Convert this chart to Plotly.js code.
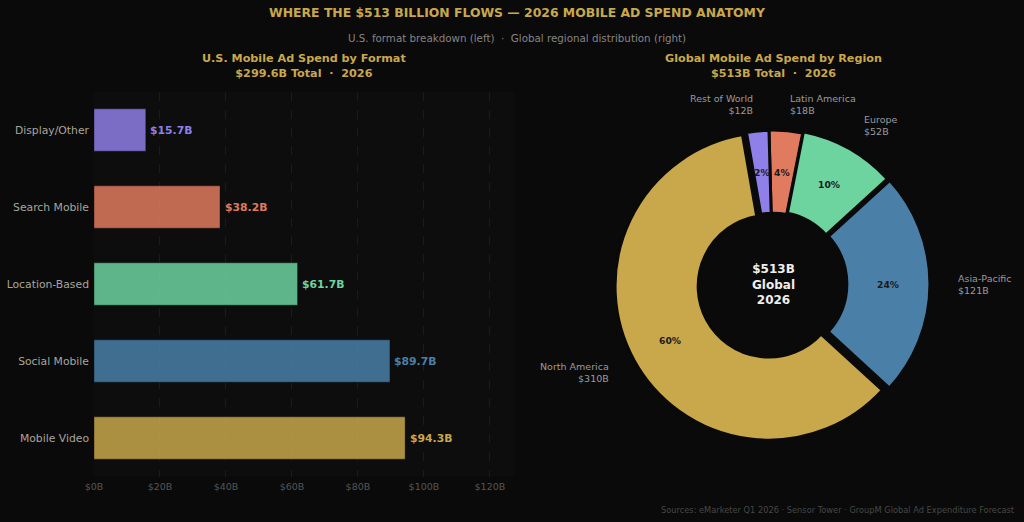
<!DOCTYPE html>
<html>
<head>
<meta charset="utf-8">
<script src="https://cdn.plot.ly/plotly-3.0.1.min.js"></script>
<style>
  html, body { margin: 0; padding: 0; background: #0a0a0a; }
  #chart { width: 1024px; height: 522px; }
</style>
</head>
<body>
<div id="chart"></div>
<script>
// ---- U.S. mobile ad spend by format (billions USD), top to bottom ----
const formats      = ['Display/Other', 'Search Mobile', 'Location-Based', 'Social Mobile', 'Mobile Video'];
const formatSpend  = [15.7, 38.2, 61.7, 89.7, 94.3];
const formatColors = ['#8f7fe8', '#e07b5f', '#6dd4a0', '#4a80a8', '#c9a84c'];

// ---- Global mobile ad spend by region (billions USD), clockwise from 12 o'clock ----
const regions      = ['Latin America', 'Europe', 'Asia-Pacific', 'North America', 'Rest of World'];
const regionSpend  = [18, 52, 121, 310, 12];
const regionColors = ['#e07b5f', '#6dd4a0', '#4a80a8', '#c9a84c', '#8f7fe8'];
const regionPull   = [0.0, 0.01, 0.02, 0.03, 0.0];

const xTicks = [0, 20, 40, 60, 80, 100, 120];

const W = 1024, H = 522;
const BG = '#0a0a0a';
const GOLD = '#c9a84c';
const FONT = 'DejaVu Sans, sans-serif';
const PIE_ROTATION = -1.5;   // degrees, clockwise-positive as in plotly

function rgba(hex, a) {
  const n = parseInt(hex.slice(1), 16);
  return `rgba(${(n >> 16) & 255},${(n >> 8) & 255},${n & 255},${a})`;
}
const px = x => x / W;          // pixel -> paper x
const py = y => 1 - y / H;      // pixel -> paper y

const annotations = [];

// Bar chart
const bars = {
  type: 'bar',
  orientation: 'h',
  x: formatSpend,
  y: formats,
  width: 0.55,
  marker: {
    color: formatColors.map(c => rgba(c, 0.85)),
    line: { color: 'rgba(0,0,0,0.35)', width: 1 }
  },
  hoverinfo: 'skip',
  xaxis: 'x', yaxis: 'y'
};

// Value labels at the end of each bar
formatSpend.forEach((v, i) => {
  annotations.push({
    xref: 'x', yref: 'y', x: v, y: formats[i],
    xanchor: 'left', yanchor: 'middle', xshift: 2.5,
    showarrow: false,
    text: '$' + v.toFixed(1) + 'B',
    font: { family: FONT, size: 10.8, color: formatColors[i], weight: 700 }
  });
});

// Donut chart geometry (pixels)
const pieBox = { x0: 614.5, x1: 931.5, y0: 125.5, y1: 442.5 };
const cx = (pieBox.x0 + pieBox.x1) / 2;
const cy = (pieBox.y0 + pieBox.y1) / 2;
const maxPull = Math.max(...regionPull);
const R = Math.min(pieBox.x1 - pieBox.x0, pieBox.y1 - pieBox.y0) / 2 / (1 + maxPull);

const donut = {
  type: 'pie',
  labels: regions,
  values: regionSpend,
  sort: false,
  direction: 'clockwise',
  rotation: PIE_ROTATION,
  hole: 0.46,
  pull: regionPull,
  marker: { colors: regionColors, line: { color: BG, width: 3 } },
  textinfo: 'none',
  hoverinfo: 'skip',
  showlegend: false,
  domain: { x: [px(pieBox.x0), px(pieBox.x1)], y: [py(pieBox.y1), py(pieBox.y0)] }
};

// Region labels and percentages placed from each slice's mid-angle
const total = regionSpend.reduce((a, b) => a + b, 0);
let cum = 0;
regionSpend.forEach((v, i) => {
  const mid = (90 - PIE_ROTATION - (cum + v / 2) / total * 360) * Math.PI / 180;
  cum += v;
  const c = Math.cos(mid), s = Math.sin(mid);
  const dOut = (1.17 + regionPull[i]) * R;
  const dIn = (0.73 + regionPull[i]) * R;
  const right = c >= 0;
  annotations.push({
    xref: 'paper', yref: 'paper',
    x: px(cx + dOut * c), y: py(cy - dOut * s),
    xanchor: right ? 'left' : 'right', yanchor: 'middle',
    align: right ? 'left' : 'right',
    text: regions[i] + '<br>$' + v + 'B',
    showarrow: false,
    font: { family: FONT, size: 9.5, color: '#9a9a9a', lineposition: 'none' }
  });
  annotations.push({
    xref: 'paper', yref: 'paper',
    x: px(cx + dIn * c), y: py(cy - dIn * s),
    xanchor: 'center', yanchor: 'middle',
    text: Math.round(v / total * 100) + '%',
    showarrow: false,
    font: { family: FONT, size: 9.2, color: '#1a1a1a', weight: 700 }
  });
});

// Donut centre
annotations.push({
  xref: 'paper', yref: 'paper', x: px(cx), y: py(cy),
  xanchor: 'center', yanchor: 'middle', showarrow: false,
  text: '$' + total + 'B<br>Global<br>2026',
  font: { family: FONT, size: 12, color: '#eeeeee', weight: 700 }
});

// Subtitle and panel titles
const formatTotal = formatSpend.reduce((a, b) => a + b, 0);
annotations.push({
  xref: 'paper', yref: 'paper', x: px(517), y: py(38), xanchor: 'center', yanchor: 'middle',
  showarrow: false,
  text: 'U.S. format breakdown (left)  ·  Global regional distribution (right)',
  font: { family: FONT, size: 10.3, color: '#858585' }
});
annotations.push({
  xref: 'paper', yref: 'paper', x: px(304), y: py(66.5), xanchor: 'center', yanchor: 'middle',
  showarrow: false,
  text: 'U.S. Mobile Ad Spend by Format<br>$' + formatTotal.toFixed(1) + 'B Total  ·  2026',
  font: { family: FONT, size: 11.2, color: GOLD, weight: 700 }
});
annotations.push({
  xref: 'paper', yref: 'paper', x: px(cx), y: py(66.5), xanchor: 'center', yanchor: 'middle',
  showarrow: false,
  text: 'Global Mobile Ad Spend by Region<br>$' + total + 'B Total  ·  2026',
  font: { family: FONT, size: 11.2, color: GOLD, weight: 700 }
});
annotations.push({
  xref: 'paper', yref: 'paper', x: px(1017), y: py(510), xanchor: 'right', yanchor: 'middle',
  showarrow: false,
  text: 'Sources: eMarketer Q1 2026 · Sensor Tower · GroupM Global Ad Expenditure Forecast',
  font: { family: FONT, size: 8.25, color: '#474747' }
});

const layout = {
  width: W, height: H,
  margin: { l: 0, r: 0, t: 0, b: 0 },
  paper_bgcolor: BG,
  plot_bgcolor: '#0d0d0d',
  showlegend: false,
  title: {
    text: 'WHERE THE $513 BILLION FLOWS — 2026 MOBILE AD SPEND ANATOMY',
    x: px(517), xanchor: 'center', xref: 'paper',
    y: py(12.5), yanchor: 'middle', yref: 'container',
    font: { family: FONT, size: 12.4, color: GOLD, weight: 700 }
  },
  xaxis: {
    domain: [px(94), px(514)],
    range: [0, 127.3],
    tickvals: xTicks,
    ticktext: xTicks.map(t => '$' + t + 'B'),
    showgrid: true, gridcolor: '#1f1f1f', griddash: 'dash', gridwidth: 0.8,
    zeroline: false, showline: false, ticks: '',
    ticklabelstandoff: 3,
    tickfont: { family: FONT, size: 9.5, color: '#555555' },
    fixedrange: true
  },
  yaxis: {
    domain: [py(476.5), py(91.5)],
    range: [4.5, -0.5],
    type: 'category',
    showgrid: false, zeroline: false, showline: false, ticks: '',
    ticklabelstandoff: 4,
    tickfont: { family: FONT, size: 10.8, color: '#a9a59b' },
    fixedrange: true
  },
  annotations: annotations
};

Plotly.newPlot('chart', [bars, donut], layout, { displayModeBar: false, staticPlot: true });
</script>
</body>
</html>
